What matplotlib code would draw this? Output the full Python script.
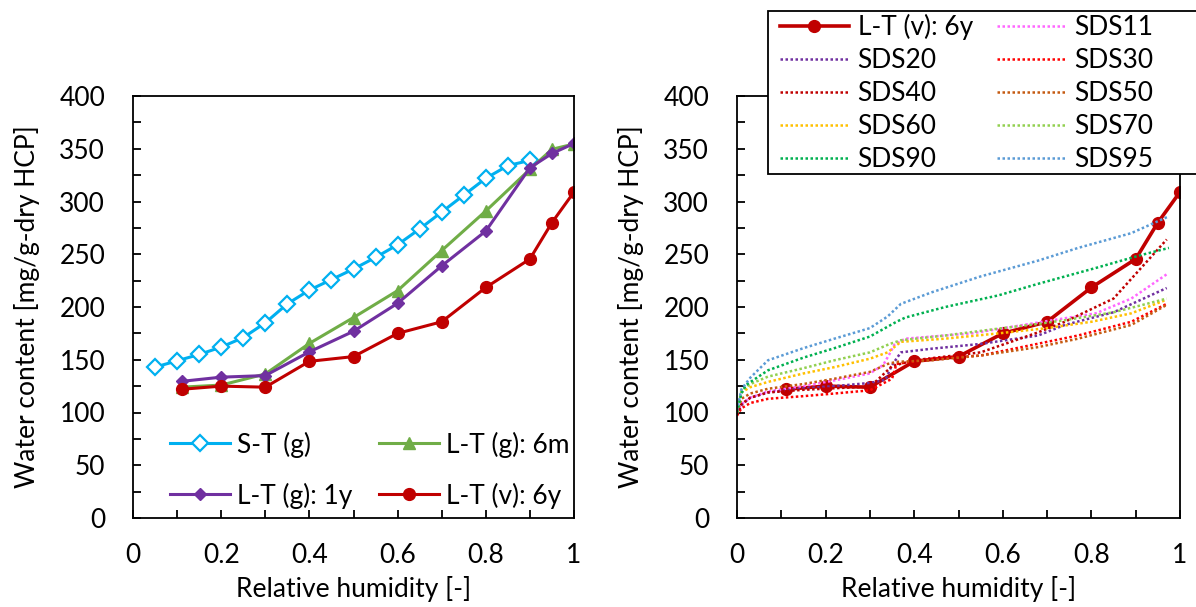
import matplotlib
matplotlib.use("Agg")
import matplotlib.pyplot as plt
from matplotlib.ticker import MultipleLocator
from matplotlib.patches import Rectangle

plt.rcParams['font.family'] = ['Lato', 'DejaVu Sans']
FS = 19

# ---- left chart data ----
rh_st = [0.05, 0.10, 0.15, 0.20, 0.25, 0.30, 0.35, 0.40, 0.45, 0.50,
         0.55, 0.60, 0.65, 0.70, 0.75, 0.80, 0.85, 0.90]
w_st = [143, 149, 155, 162, 171, 185, 203, 216, 226, 236,
        247, 259, 274, 290, 306, 322, 334, 339]

rh_lt = [0.11, 0.2, 0.3, 0.4, 0.5, 0.6, 0.7, 0.8, 0.9, 0.95, 1.0]
w_6m = [124, 126, 136.5, 165.5, 190, 215.5, 253.5, 291, 330.5, 349.5, 354.5]
w_1y = [129.5, 133.5, 135, 157.5, 177, 203.5, 239, 272, 332, 345.5, 355]
w_6y = [122, 125, 124, 148.5, 153, 175, 186, 218.5, 245.5, 280, 309]

# ---- right chart data (simulations) ----
sds_names = ['SDS11', 'SDS20', 'SDS30', 'SDS40', 'SDS50',
             'SDS60', 'SDS70', 'SDS90', 'SDS95']
sds_colors = ['#FF66FF', '#7030A0', '#FF0000', '#C00000', '#C55A11',
              '#FFC000', '#92D050', '#00B050', '#5B9BD5']
sds11_x = [0, 0.01, 0.03, 0.07, 0.15, 0.24, 0.30, 0.33, 0.345, 0.355, 0.38, 0.53, 0.69, 0.81, 0.89, 0.97]
sds11_y = [100, 108, 114, 120, 125, 132, 137, 145, 156, 164, 170, 175, 186, 194, 208, 231]
sds20_x = [0, 0.01, 0.03, 0.07, 0.15, 0.22, 0.30, 0.335, 0.35, 0.37, 0.44, 0.55, 0.68, 0.74, 0.85, 0.97]
sds20_y = [98, 107, 114, 119, 123, 125, 128, 131, 145, 157, 160.5, 165, 173, 183, 195, 218]
sds30_x = [0, 0.01, 0.03, 0.07, 0.15, 0.22, 0.30, 0.35, 0.36, 0.44, 0.55, 0.66, 0.77, 0.89, 0.97]
sds30_y = [97, 104, 109, 113, 115.5, 118, 121, 132, 146, 151, 154, 163.5, 173, 186, 203]
sds40_x = [0, 0.01, 0.03, 0.07, 0.15, 0.22, 0.30, 0.32, 0.35, 0.40, 0.55, 0.68, 0.74, 0.85, 0.91, 0.97]
sds40_y = [98, 108, 114, 119, 121.5, 123, 124.5, 132, 144, 149.5, 157, 176, 186, 208, 236, 264]
sds50_x = [0, 0.01, 0.03, 0.07, 0.15, 0.22, 0.30, 0.34, 0.36, 0.44, 0.55, 0.68, 0.77, 0.89, 0.97]
sds50_y = [100, 113, 118, 122.5, 127, 132, 138.5, 146, 148, 149.5, 154, 162, 170, 183, 202]
sds60_x = [0, 0.01, 0.03, 0.07, 0.15, 0.22, 0.30, 0.34, 0.37, 0.47, 0.59, 0.70, 0.80, 0.89, 0.97]
sds60_y = [100, 119, 124, 129, 137, 143, 151, 157, 167, 170, 175, 180, 186, 194, 207]
sds70_x = [0, 0.01, 0.03, 0.07, 0.15, 0.22, 0.30, 0.345, 0.37, 0.47, 0.59, 0.68, 0.74, 0.85, 0.925, 0.97]
sds70_y = [100, 121, 127, 134, 142, 149.5, 157, 165, 168.5, 173, 179.5, 184, 187.5, 195, 203, 208]
sds90_x = [0, 0.01, 0.02, 0.07, 0.15, 0.22, 0.30, 0.36, 0.38, 0.47, 0.59, 0.68, 0.81, 0.91, 0.975]
sds90_y = [100, 118, 126, 140, 152, 161, 172, 186, 190, 200, 211, 222, 237, 249, 256]
sds95_x = [0, 0.01, 0.03, 0.07, 0.15, 0.22, 0.30, 0.34, 0.37, 0.44, 0.55, 0.68, 0.77, 0.89, 0.975]
sds95_y = [102, 122, 133, 149.5, 161, 170, 180, 191, 203, 214, 229, 244, 256, 270, 286]
sds_x = [sds11_x, sds20_x, sds30_x, sds40_x, sds50_x, sds60_x, sds70_x, sds90_x, sds95_x]
sds_y = [sds11_y, sds20_y, sds30_y, sds40_y, sds50_y, sds60_y, sds70_y, sds90_y, sds95_y]

W, H = 1196, 607
fig = plt.figure(figsize=(W / 100, H / 100), dpi=100)
ax1 = fig.add_axes([133/W, 89/H, 441/W, 422/H])
ax2 = fig.add_axes([737/W, 89/H, 443/W, 422/H])


def style(ax):
    ax.set_xlim(0, 1)
    ax.set_ylim(0, 400)
    ax.xaxis.set_major_locator(MultipleLocator(0.2))
    ax.xaxis.set_minor_locator(MultipleLocator(0.1))
    ax.yaxis.set_major_locator(MultipleLocator(50))
    ax.yaxis.set_minor_locator(MultipleLocator(25))
    ax.xaxis.set_major_formatter(lambda v, p: '%g' % round(v, 1))
    ax.tick_params(which='both', direction='in', length=6, width=1.3,
                   top=False, right=False, labelsize=FS)
    ax.tick_params(axis='y', which='both', pad=20)
    ax.tick_params(axis='x', which='both', pad=18)
    for s in ax.spines.values():
        s.set_linewidth(1.3)
    ax.set_xlabel('Relative humidity [-]', fontsize=FS, labelpad=6)
    ax.set_ylabel('Water content [mg/g-dry HCP]', fontsize=FS, labelpad=14)


# left
l_st, = ax1.plot(rh_st, w_st, color='#00B0F0', lw=2.2, marker='D', ms=8,
                 mfc='white', mec='#00B0F0', mew=1.6, label='S-T (g)')
l_6m, = ax1.plot(rh_lt, w_6m, color='#70AD47', lw=2.2, marker='^', ms=8,
                 label='L-T (g): 6m')
l_1y, = ax1.plot(rh_lt, w_1y, color='#7030A0', lw=2.2, marker='D', ms=6,
                 label='L-T (g): 1y')
l_6y, = ax1.plot(rh_lt, w_6y, color='#C00000', lw=2.2, marker='o', ms=8.5,
                 label='L-T (v): 6y')
style(ax1)
ax1.legend(handles=[l_st, l_1y, l_6m, l_6y], ncol=2, frameon=False,
           fontsize=FS, loc='lower left', bbox_to_anchor=(0.083, 0.022),
           handlelength=2.3, handletextpad=0.25, columnspacing=1.0,
           labelspacing=0.95, borderaxespad=0, borderpad=0)

# right
r_6y, = ax2.plot(rh_lt, w_6y, color='#C00000', lw=2.6, marker='o', ms=8.5,
                 label='L-T (v): 6y')
sds_lines = []
for xs, ys, name, c in zip(sds_x, sds_y, sds_names, sds_colors):
    ln, = ax2.plot(xs, ys, color=c, lw=1.8, ls=(0, (1, 1)), label=name)
    sds_lines.append(ln)
style(ax2)

# legend box runs off the right edge of the picture
box = Rectangle((768/W, 1 - 174/H), (W + 5 - 768)/W, 163/H,
                transform=fig.transFigure, facecolor='white',
                edgecolor='black', linewidth=1.3, zorder=4)
fig.add_artist(box)
by_name = dict(zip(sds_names, sds_lines))
order = [r_6y] + [by_name[n] for n in ['SDS20', 'SDS40', 'SDS60', 'SDS90',
                                       'SDS11', 'SDS30', 'SDS50', 'SDS70', 'SDS95']]
leg = fig.legend(handles=order, ncol=2, fontsize=FS, loc='upper left',
                 bbox_to_anchor=(780/W, 1 - 14/H), borderaxespad=0,
                 frameon=False, handlelength=2.6, handletextpad=0.34,
                 columnspacing=0.9, labelspacing=0.3, borderpad=0)
leg.set_zorder(5)

fig.savefig('out.png', dpi=100)
